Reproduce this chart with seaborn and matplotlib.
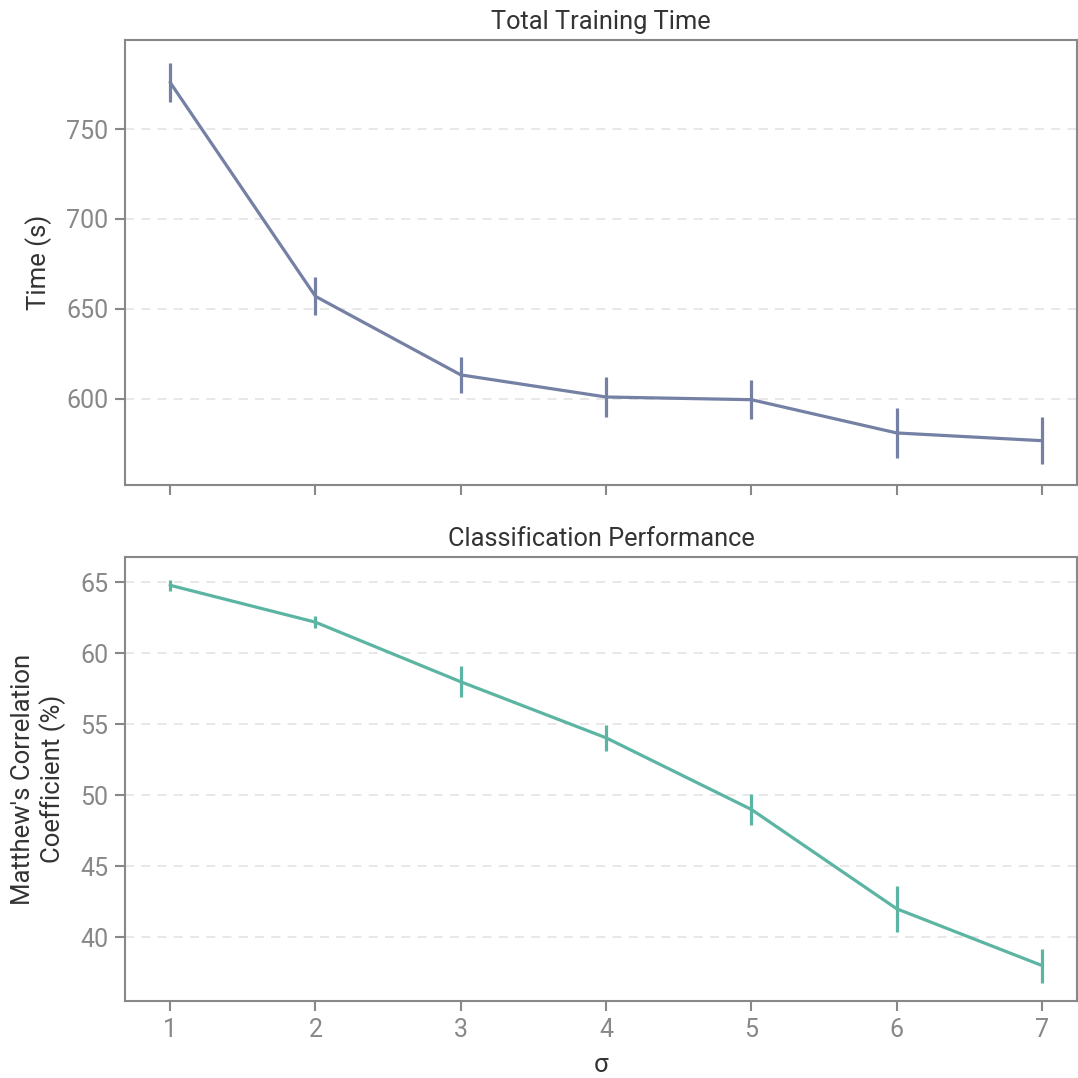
import matplotlib
matplotlib.use("Agg")
import matplotlib.pyplot as plt
import seaborn as sns
import pandas as pd
import numpy as np

sigma = [1, 2, 3, 4, 5, 6, 7]
time_mean = [776, 657, 613.3, 601, 599.5, 581, 576.7]
time_err = [11, 10.5, 10, 11, 11, 14, 13]
mcc_mean = [64.8, 62.2, 58.0, 54.05, 49.0, 42.0, 38.0]
mcc_err = [0.4, 0.4, 1.1, 0.9, 1.1, 1.6, 1.2]

sns.set_theme(style="white")
plt.rcParams['font.family'] = ['Roboto', 'DejaVu Sans']

c_top = "#7480A4"
c_bot = "#5BB5A2"
spine_c = "#888888"
text_c = "#333333"

fig = plt.figure(figsize=(10.78, 10.78), dpi=100)
ax1 = fig.add_axes([0.116, 0.550, 0.883, 0.4128])
ax2 = fig.add_axes([0.116, 0.0714, 0.883, 0.412], sharex=ax1)

df1 = pd.DataFrame({"sigma": sigma, "mean": time_mean, "err": time_err})
df2 = pd.DataFrame({"sigma": sigma, "mean": mcc_mean, "err": mcc_err})

for ax, df, c in [(ax1, df1, c_top), (ax2, df2, c_bot)]:
    sns.lineplot(data=df, x="sigma", y="mean", ax=ax, color=c, linewidth=2.3, zorder=3)
    ax.errorbar(df["sigma"], df["mean"], yerr=df["err"], fmt="none", ecolor=c,
                elinewidth=2.3, capsize=0, zorder=3)
    ax.yaxis.grid(True, linestyle=(0, (5, 4)), color="#e6e6e6", linewidth=1.3, zorder=0)
    ax.xaxis.grid(False)
    for s in ax.spines.values():
        s.set_color(spine_c)
        s.set_linewidth(1.5)
    ax.tick_params(axis="both", which="both", direction="out", length=7, width=1.5,
                   color=spine_c, labelcolor="#888888", labelsize=18, left=True, bottom=True, pad=5)

ax1.set_xlim(0.69, 7.24)
ax1.set_xticks(sigma)
ax1.set_ylim(552, 799.5)
ax1.set_yticks([600, 650, 700, 750])
ax2.set_ylim(35.5, 66.8)
ax2.set_yticks([40, 45, 50, 55, 60, 65])
plt.setp(ax1.get_xticklabels(), visible=False)

ax1.set_title("Total Training Time", fontsize=18.3, color=text_c, pad=8)
ax2.set_title("Classification Performance", fontsize=18.3, color=text_c, pad=8)
ax1.set_xlabel("")
ax1.set_ylabel("Time (s)", fontsize=18.5, color=text_c, labelpad=10)
ax2.set_xlabel("σ", fontsize=18.5, color=text_c, labelpad=8)
ax2.set_ylabel("Matthew's Correlation\nCoefficient (%)", fontsize=18.5, color=text_c, labelpad=10)

fig.savefig("out.png", dpi=100)
